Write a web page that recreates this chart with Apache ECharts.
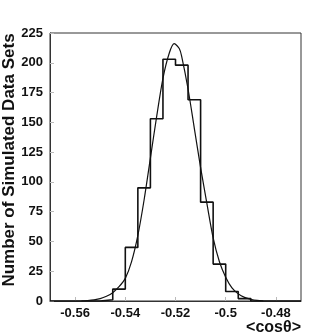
<!DOCTYPE html>
<html>
<head>
<meta charset="utf-8">
<title>cos theta</title>
<script src="https://cdn.jsdelivr.net/npm/echarts@6/dist/echarts.min.js"></script>
<style>
html, body { margin: 0; padding: 0; background: #fff; }
#chart { width: 335px; height: 335px; }
</style>
</head>
<body>
<div id="chart"></div>
<script>
// histogram: bin left edges and counts (bin width 0.005)
var binEdges = [-0.550, -0.545, -0.540, -0.535, -0.530, -0.525, -0.520, -0.515, -0.510, -0.505, -0.500, -0.495, -0.490];
var binCounts = [1, 10, 45, 95, 153, 203, 198, 169, 83, 31, 8, 2];

// fitted curve
var curveX = [-0.5575, -0.555, -0.5525, -0.55, -0.5475, -0.545, -0.5425, -0.54, -0.5375, -0.535, -0.5325, -0.53,
              -0.5275, -0.525, -0.5225, -0.5205, -0.5185, -0.5175, -0.515, -0.5125, -0.51, -0.5075, -0.505,
              -0.5025, -0.5, -0.4975, -0.495, -0.4925, -0.49, -0.4875, -0.485];
var curveY = [0, 0.4, 1, 2, 4, 7, 12, 19, 33, 55, 85, 120,
              155, 187, 208, 216, 212, 205, 178, 145, 112, 82, 53,
              33, 20, 11, 6, 3, 1.5, 0.5, 0];

var xTicks = [-0.56, -0.54, -0.52, -0.5, -0.48];
var xTickLabels = ['-0.56', '-0.54', '-0.52', '-0.5', '-0.48'];

var histData = [[-0.57, 0]];
for (var i = 0; i < binCounts.length; i++) {
	histData.push([binEdges[i], binCounts[i]]);
}
histData.push([binEdges[binEdges.length - 1], 0]);
histData.push([-0.47, 0]);

var curveData = curveX.map(function (x, i) { return [x, curveY[i]]; });

var font = '"Liberation Sans", Arial, sans-serif';

var option = {
	animation: false,
	grid: { left: 50, right: 34, top: 33, bottom: 34, show: true, borderColor: '#333', borderWidth: 1 },
	xAxis: {
		type: 'value', min: -0.57, max: -0.47,
		axisLine: { show: true, onZero: false, lineStyle: { color: '#333' } },
		axisTick: { show: true, inside: true, length: 4, customValues: xTicks, lineStyle: { color: '#bbb' } },
		splitLine: { show: false },
		axisLabel: {
			customValues: xTicks, margin: 6, color: '#111', fontFamily: font, fontWeight: 'bold', fontSize: 13,
			formatter: function (v) {
				for (var k = 0; k < xTicks.length; k++) { if (Math.abs(xTicks[k] - v) < 1e-6) return xTickLabels[k]; }
				return '';
			}
		}
	},
	yAxis: {
		type: 'value', min: 0, max: 225, interval: 25,
		axisLine: { show: true, lineStyle: { color: '#333' } },
		axisTick: { show: true, inside: true, length: 4, lineStyle: { color: '#bbb' } },
		splitLine: { show: false },
		axisLabel: { margin: 7, color: '#111', fontFamily: font, fontWeight: 'bold', fontSize: 13 }
	},
	graphic: [
		{ type: 'text', x: 9, y: 160, rotation: Math.PI / 2,
		  style: { text: 'Number of Simulated Data Sets', font: 'bold 17px ' + font, fill: '#111', align: 'center', verticalAlign: 'middle' } },
		{ type: 'text', x: 301, y: 328,
		  style: { text: '<cosθ>', font: 'bold 16px ' + font, fill: '#111', align: 'right', verticalAlign: 'middle' } }
	],
	series: [
		{
			type: 'line', step: 'end', data: histData, symbol: 'none',
			lineStyle: { color: '#111', width: 1.6 }
		},
		{
			type: 'line', smooth: 0.3, data: curveData, symbol: 'none',
			lineStyle: { color: '#111', width: 1.2 }
		}
	]
};

var myChart = echarts.init(document.getElementById('chart'));
myChart.setOption(option, true);
</script>
</body>
</html>
